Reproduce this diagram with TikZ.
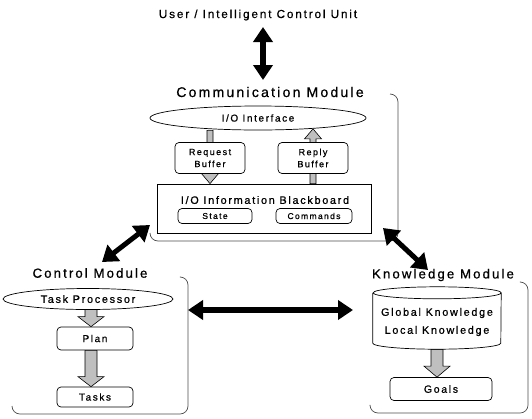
\documentclass[tikz,border=0pt]{standalone}
\usepackage{fontspec}
\setmainfont{Liberation Sans}[LetterSpace=16,FakeBold=0.7]
\usetikzlibrary{arrows.meta,calc,backgrounds,shapes.geometric}
\newcommand{\blockarr}[5]{%
  \coordinate (bac) at ($(#2)!#5!(#1)$);
  \filldraw[garrow] ($(#1)!#3!90:(#2)$) -- ($(bac)!#3!90:(#2)$) -- ($(bac)!#4!90:(#2)$) -- (#2)
    -- ($(bac)!#4!-90:(#2)$) -- ($(bac)!#3!-90:(#2)$) -- ($(#1)!#3!-90:(#2)$) -- cycle;}
\begin{document}
\begin{tikzpicture}[x=1pt,y=-1pt,
  title/.style={inner sep=1pt, font=\fontsize{11.7}{14}\selectfont},
  modlbl/.style={inner sep=1pt, font=\fontsize{13.2}{15}\selectfont},
  frame/.style={line width=0.7pt, black!70, rounded corners=8pt},
  rbox/.style={draw, line width=0.7pt, rounded corners=4pt, fill=white, inner sep=0pt, align=center},
  oval/.style={draw, ellipse, line width=0.7pt, fill=white, inner sep=0pt},
  garrow/.style={fill=gray!50, draw=black, line width=0.6pt, line join=miter},
  bigarrow/.style={line width=5.5pt, {Triangle[length=15pt,width=19pt]}-{Triangle[length=15pt,width=19pt]}},
  diagarrow/.style={line width=5pt, {Triangle[length=15pt,width=20pt]}-{Triangle[length=15pt,width=20pt]}}
]
\useasboundingbox (0,0) rectangle (532,418);

% ---- top
\node[title] (user) at (258,15) {User / Intelligent Control Unit};
\node[modlbl, font=\fontsize{14}{16}\selectfont] (comm) at (270,92) {Communication Module};
\coordinate (ua) at (263,27);
\coordinate (ub) at (263,80);
\draw[bigarrow] (ua) -- (ub);

% ---- communication module
\draw[frame] (390,94) -- (398,94) -- (398,241) -- (150,241) -- (150,233);
\node[oval, minimum width=216pt, minimum height=24pt, font=\fontsize{10}{12}\selectfont] (io) at (258,118) {I/O Interface};
\node[rbox, minimum width=70pt, minimum height=31pt, font=\fontsize{9}{12}\selectfont] (req) at (210,158) {Request\\Buffer};
\node[rbox, minimum width=70pt, minimum height=31pt, font=\fontsize{9}{12}\selectfont] (rep) at (313,158) {Reply\\Buffer};
\node[draw, line width=0.8pt, fill=white, minimum width=214pt, minimum height=49pt] (bb) at (264,208.5) {};
\node[inner sep=0pt, font=\fontsize{10.8}{12}\selectfont] (bbt) at (265,200) {I/O Information Blackboard};
\node[rbox, minimum width=74pt, minimum height=15pt, font=\fontsize{8.5}{10}\selectfont] (state) at (215,216) {State};
\node[rbox, minimum width=76pt, minimum height=15pt, font=\fontsize{8.5}{10}\selectfont] (cmds) at (314,216) {Commands};
\coordinate (rq1) at (req.north |- io.south);
\coordinate (rq2) at (req.north |- bb.north);
\coordinate (rp1) at (rep.south |- bb.north);
\coordinate (rp2) at ([yshift=1.5pt]rep.north |- io.south);
\begin{scope}[on background layer]
  \blockarr{rq1}{rq2}{3pt}{8.5pt}{10pt}
  \blockarr{rp1}{rp2}{3pt}{8.5pt}{10pt}
\end{scope}

% ---- control module
\node[modlbl] (ctrl) at (90,273) {Control Module};
\draw[frame] (181,277) -- (188,277) -- (188,414) -- (12,414) -- (12,406);
\node[oval, minimum width=170pt, minimum height=21pt, font=\fontsize{10.8}{12}\selectfont] (tp) at (88,299) {Task Processor};
\node[rbox, minimum width=76pt, minimum height=23pt, font=\fontsize{10}{12}\selectfont] (plan) at (95,338.5) {Plan};
\node[rbox, minimum width=76pt, minimum height=20pt, font=\fontsize{10}{12}\selectfont] (tasks) at (95,397) {Tasks};
\coordinate (tp1) at (91,309);
\coordinate (tp2) at (tp1 |- plan.north);
\coordinate (pl1) at (tp1 |- plan.south);
\coordinate (pl2) at (tp1 |- tasks.north);
\begin{scope}[on background layer]
  \blockarr{tp1}{tp2}{6pt}{13pt}{10pt}
  \blockarr{pl1}{pl2}{6pt}{13pt}{10pt}
\end{scope}

% ---- knowledge module
\node[modlbl] (know) at (443,275) {Knowledge Module};
\draw[frame] (521,282) -- (528,282) -- (528,413) -- (370,413) -- (370,406);
\node[minimum width=128pt, minimum height=62pt, inner sep=0pt] (kb) at (437,318) {};
\draw[line width=0.7pt, fill=white]
  ([yshift=-6pt]kb.north west) -- ([yshift=6pt]kb.south west)
  arc[start angle=180, end angle=360, x radius=64pt, y radius=6pt]
  -- ([yshift=-6pt]kb.north east)
  arc[start angle=0, end angle=180, x radius=64pt, y radius=6pt]
  arc[start angle=180, end angle=360, x radius=64pt, y radius=6pt];
\node[align=center, inner sep=0pt, font=\fontsize{10.8}{18}\selectfont] (kbt) at (437,322) {Global Knowledge\\Local Knowledge};
\node[rbox, minimum width=102pt, minimum height=23pt, font=\fontsize{10.5}{12}\selectfont] (goals) at (441,389) {Goals};
\coordinate (kg1) at (kb.south);
\coordinate (kg2) at (kb.south |- goals.north);
\begin{scope}[on background layer]
  \blockarr{kg1}{kg2}{6pt}{13pt}{11pt}
\end{scope}

% ---- module connectors
\coordinate (cl1) at (150,225);
\coordinate (cl2) at (102,262);
\draw[diagarrow] (cl1) -- (cl2);
\coordinate (cr1) at (383,228);
\coordinate (cr2) at (428,270);
\draw[diagarrow] (cr1) -- (cr2);
\coordinate (hz1) at (188,310);
\coordinate (hz2) at (353,310);
\draw[bigarrow] (hz1) -- (hz2);
\end{tikzpicture}
\end{document}
